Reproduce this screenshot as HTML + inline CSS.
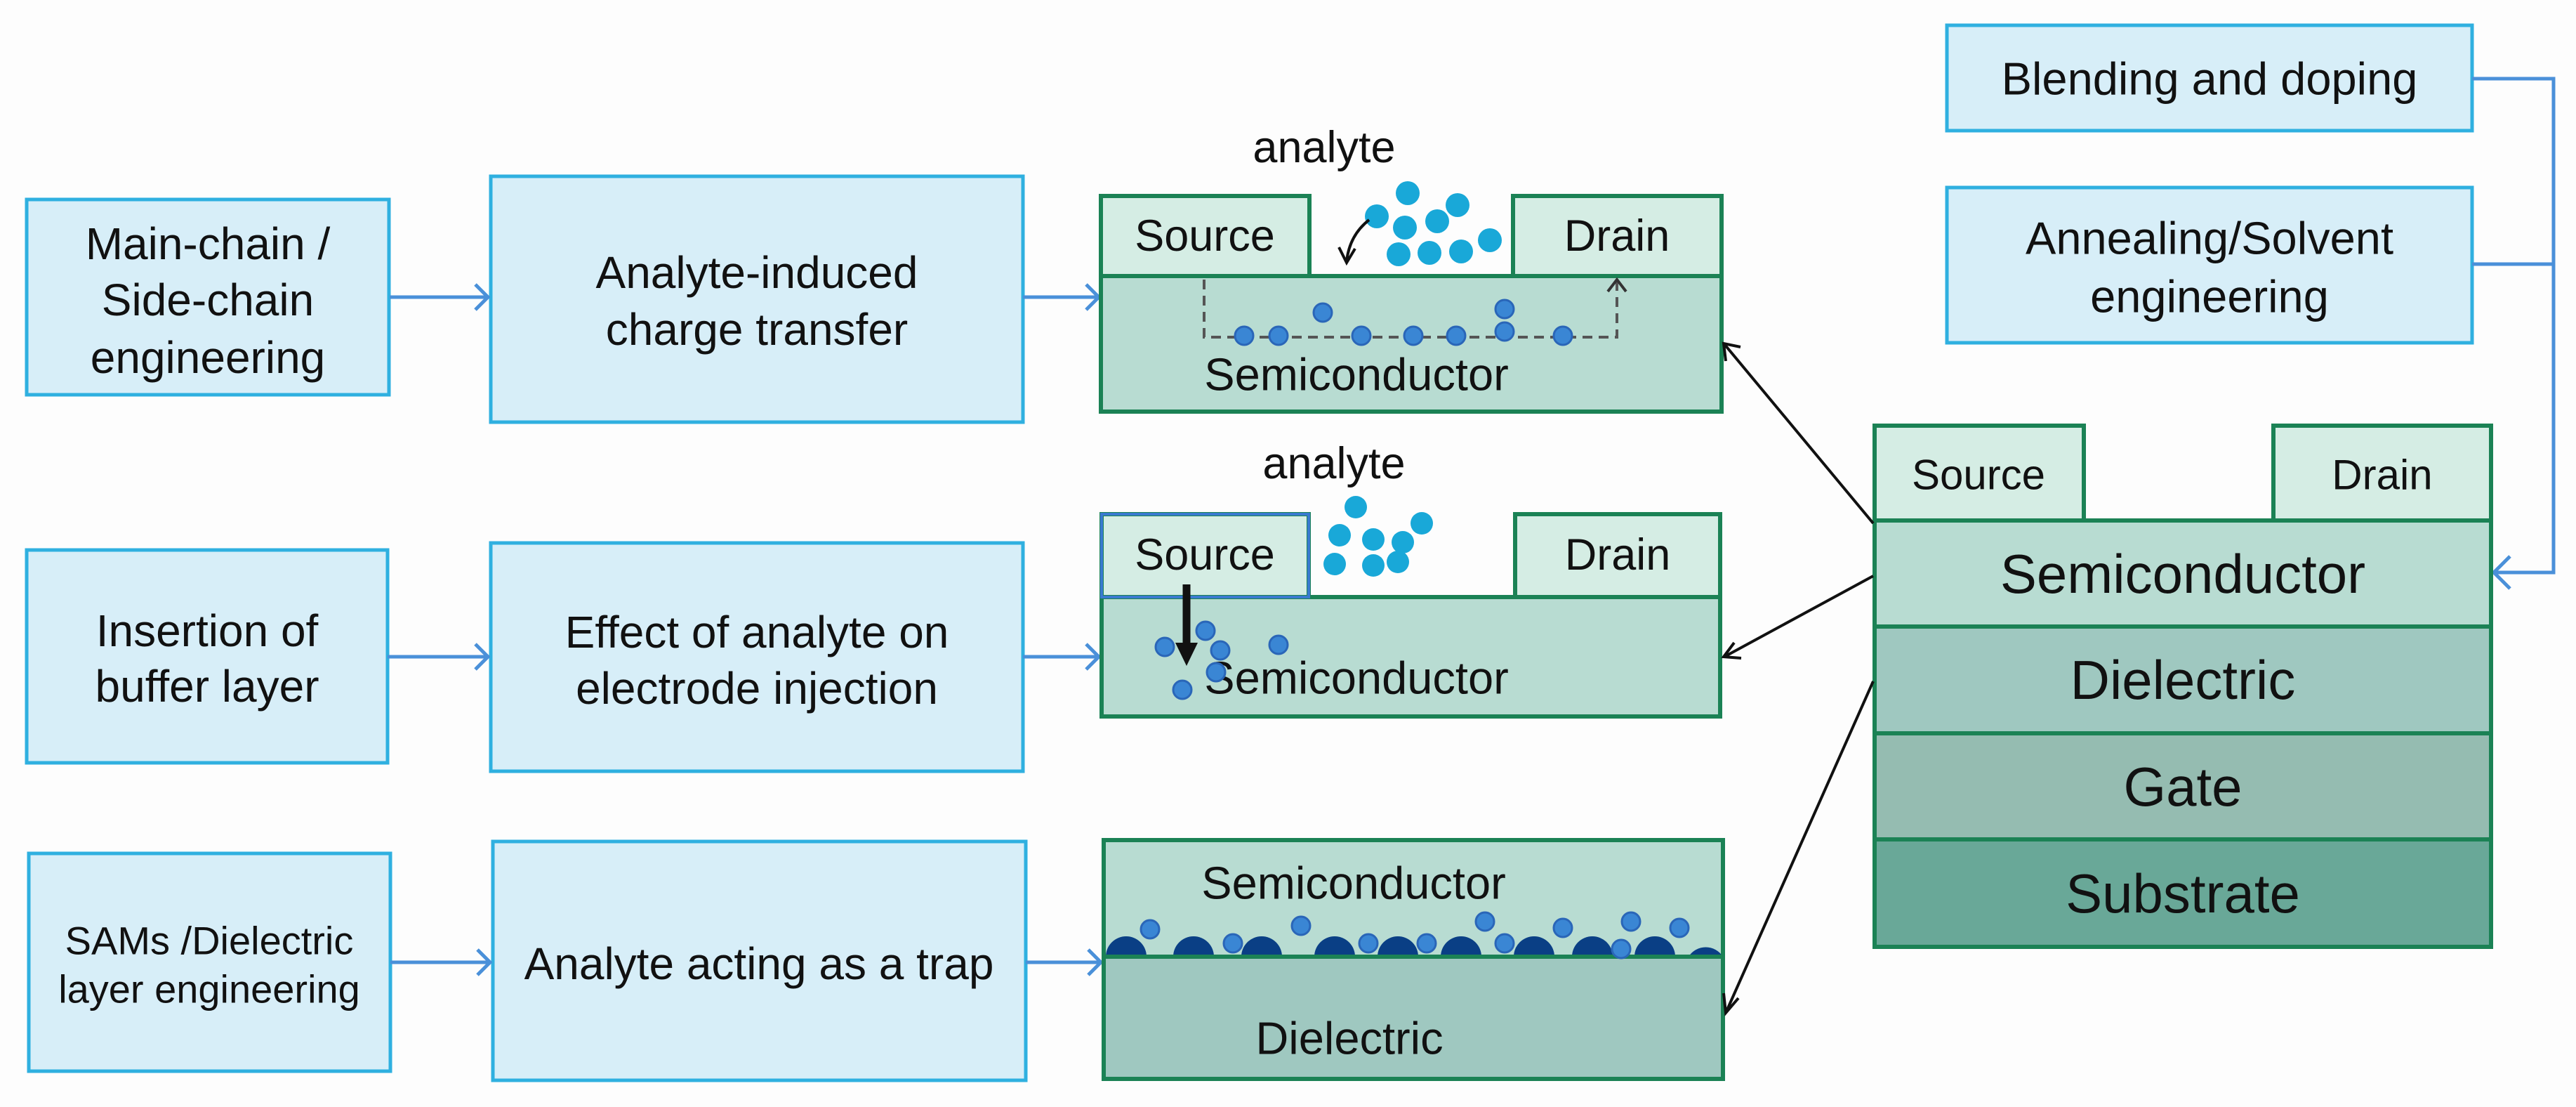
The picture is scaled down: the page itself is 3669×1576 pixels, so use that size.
<!DOCTYPE html>
<html><head><meta charset="utf-8"><style>
html,body{margin:0;padding:0;background:#fdfdfd;}
svg{display:block}
text{font-family:"Liberation Sans",Arial,sans-serif;fill:#111;text-anchor:middle;dominant-baseline:central}
.bx{fill:#d7eef8;stroke:#2fb0e0;stroke-width:5}
.g{stroke:#1b8255;stroke-width:6}
.bl{stroke:#4a90d9;stroke-width:5;fill:none}
.k{stroke:#111;stroke-width:4;fill:none}
.cy{fill:#19a8d8}
.dd{fill:#3a86d4;stroke:#2a66b8;stroke-width:3}
</style></head><body>
<svg width="3669" height="1576" viewBox="0 0 3669 1576" xmlns="http://www.w3.org/2000/svg">
<rect width="3669" height="1576" fill="#fdfdfd"/>
<!-- left boxes -->
<rect class="bx" x="38" y="284" width="516" height="278"/>
<text x="296" y="347" font-size="64">Main-chain /</text>
<text x="296" y="427" font-size="64">Side-chain</text>
<text x="296" y="509" font-size="64">engineering</text>
<rect class="bx" x="699" y="251" width="758" height="350"/>
<text x="1078" y="388" font-size="64">Analyte-induced</text>
<text x="1078" y="469" font-size="64">charge transfer</text>

<rect class="bx" x="38" y="783" width="514" height="303"/>
<text x="295" y="898" font-size="64">Insertion of</text>
<text x="295" y="977" font-size="64">buffer layer</text>
<rect class="bx" x="699" y="773" width="758" height="325"/>
<text x="1078" y="900" font-size="64">Effect of analyte on</text>
<text x="1078" y="980" font-size="64">electrode injection</text>

<rect class="bx" x="41" y="1215" width="515" height="310"/>
<text x="298" y="1339" font-size="56">SAMs /Dielectric</text>
<text x="298" y="1408" font-size="56">layer engineering</text>
<rect class="bx" x="702" y="1198" width="759" height="340"/>
<text x="1081" y="1372" font-size="64">Analyte acting as a trap</text>

<!-- top right boxes -->
<rect class="bx" x="2773" y="36" width="748" height="150"/>
<text x="3147" y="112" font-size="65">Blending and doping</text>
<rect class="bx" x="2773" y="267" width="748" height="221"/>
<text x="3147" y="339" font-size="65">Annealing/Solvent</text>
<text x="3147" y="422" font-size="65">engineering</text>
<path class="bl" d="M3521 112 H3637 V815 H3552 M3521 376 H3637 M3575 792 L3552 815 L3575 838"/>

<!-- blue connectors -->
<path class="bl" d="M555 423 H695 M677 405 L695 423 L677 441 M1457 423 H1565 M1547 405 L1565 423 L1547 441"/>
<path class="bl" d="M552 935 H695 M677 917 L695 935 L677 953 M1457 935 H1565 M1547 917 L1565 935 L1547 953"/>
<path class="bl" d="M556 1370 H698 M680 1352 L698 1370 L680 1388 M1461 1370 H1568 M1550 1352 L1568 1370 L1550 1388"/>

<!-- device 1 -->
<rect x="1568" y="393" width="884" height="193" fill="#b8dcd2" class="g"/>
<rect x="1568" y="279" width="297" height="114" fill="#d5ede4" class="g"/>
<rect x="2155" y="279" width="297" height="114" fill="#d5ede4" class="g"/>
<text x="1716" y="336" font-size="63">Source</text>
<text x="2303" y="336" font-size="63">Drain</text>
<text x="1886" y="210" font-size="63">analyte</text>
<text x="1932" y="533" font-size="65">Semiconductor</text>
<path d="M1715 398 V480 H2303 V400" stroke="#555" stroke-width="4" stroke-dasharray="14 9" fill="none"/>
<path d="M2290 415 L2303 398 L2316 415" stroke="#333" stroke-width="4" fill="none"/>
<g class="dd"><circle cx="1772" cy="478" r="13"/><circle cx="1821" cy="478" r="13"/><circle cx="1884" cy="445" r="13"/><circle cx="1939" cy="478" r="13"/><circle cx="2013" cy="478" r="13"/><circle cx="2074" cy="478" r="13"/><circle cx="2143" cy="440" r="13"/><circle cx="2143" cy="472" r="13"/><circle cx="2226" cy="478" r="13"/></g>
<g class="cy"><circle cx="2005" cy="275" r="17"/><circle cx="2076" cy="292" r="17"/><circle cx="1961" cy="308" r="17"/><circle cx="2001" cy="324" r="17"/><circle cx="2047" cy="315" r="17"/><circle cx="2122" cy="342" r="17"/><circle cx="1992" cy="362" r="17"/><circle cx="2036" cy="360" r="17"/><circle cx="2081" cy="358" r="17"/></g>
<path class="k" d="M1950 313 Q1922 335 1918 372 M1907 352 L1918 374 L1930 354"/>

<!-- device 2 -->
<rect x="1569" y="850" width="881" height="170" fill="#b8dcd2" class="g"/>
<rect x="1569" y="732" width="295" height="118" fill="#d5ede4" class="g"/>
<path d="M1569 850 V732 H1864 V850 Z" fill="none" stroke="#3a7ad0" stroke-width="4"/>
<rect x="2158" y="732" width="292" height="118" fill="#d5ede4" class="g"/>
<text x="1716" y="790" font-size="63">Source</text>
<text x="2304" y="790" font-size="63">Drain</text>
<text x="1900" y="660" font-size="63">analyte</text>
<text x="1932" y="965" font-size="65">Semiconductor</text>
<g class="cy"><circle cx="1931" cy="722" r="16"/><circle cx="2025" cy="745" r="16"/><circle cx="1908" cy="762" r="16"/><circle cx="1956" cy="768" r="16"/><circle cx="1998" cy="772" r="16"/><circle cx="1901" cy="803" r="16"/><circle cx="1956" cy="805" r="16"/><circle cx="1991" cy="800" r="16"/></g>
<g class="dd"><circle cx="1659" cy="921" r="13"/><circle cx="1717" cy="898" r="13"/><circle cx="1738" cy="926" r="13"/><circle cx="1732" cy="957" r="13"/><circle cx="1684" cy="982" r="13"/><circle cx="1821" cy="918" r="13"/></g>
<path d="M1690 832 V920" stroke="#111" stroke-width="11"/>
<path d="M1674 915 L1690 948 L1706 915 Z" fill="#111"/>

<!-- device 3 -->
<rect x="1572" y="1196" width="882" height="166" fill="#b8dcd2" class="g"/>
<rect x="1572" y="1362" width="882" height="174" fill="#9fc8c0" class="g"/>
<text x="1928" y="1257" font-size="65">Semiconductor</text>
<text x="1922" y="1478" font-size="65">Dielectric</text>
<g fill="#0a3f85"><path d="M1575 1362 A29 29 0 0 1 1633 1362Z"/><path d="M1671 1362 A29 29 0 0 1 1729 1362Z"/><path d="M1768 1362 A29 29 0 0 1 1826 1362Z"/><path d="M1872 1362 A29 29 0 0 1 1930 1362Z"/><path d="M1962 1362 A29 29 0 0 1 2020 1362Z"/><path d="M2052 1362 A29 29 0 0 1 2110 1362Z"/><path d="M2156 1362 A29 29 0 0 1 2214 1362Z"/><path d="M2239 1362 A29 29 0 0 1 2297 1362Z"/><path d="M2328 1362 A29 29 0 0 1 2386 1362Z"/><path d="M2405 1362 A29 29 0 0 1 2454 1362Z"/></g>
<path d="M1572 1362 H2454" stroke="#1b8255" stroke-width="6"/>
<g class="dd" fill="#4d9be0"><circle cx="1638" cy="1323" r="13"/><circle cx="1756" cy="1343" r="13"/><circle cx="1853" cy="1318" r="13"/><circle cx="1949" cy="1343" r="13"/><circle cx="2032" cy="1343" r="13"/><circle cx="2115" cy="1312" r="13"/><circle cx="2143" cy="1343" r="13"/><circle cx="2226" cy="1321" r="13"/><circle cx="2309" cy="1351" r="13"/><circle cx="2323" cy="1312" r="13"/><circle cx="2392" cy="1321" r="13"/></g>

<!-- big device -->
<rect x="2670" y="741" width="878" height="151" fill="#b8dcd2" class="g"/>
<rect x="2670" y="892" width="878" height="152" fill="#9fc8c0" class="g"/>
<rect x="2670" y="1044" width="878" height="151" fill="#95bcb1" class="g"/>
<rect x="2670" y="1195" width="878" height="153" fill="#69a898" class="g"/>
<rect x="2670" y="606" width="298" height="135" fill="#d5ede4" class="g"/>
<rect x="3238" y="606" width="310" height="135" fill="#d5ede4" class="g"/>
<text x="2818" y="676" font-size="60">Source</text>
<text x="3393" y="676" font-size="60">Drain</text>
<text x="3109" y="817" font-size="78">Semiconductor</text>
<text x="3109" y="968" font-size="78">Dielectric</text>
<text x="3109" y="1120" font-size="78">Gate</text>
<text x="3109" y="1272" font-size="78">Substrate</text>

<!-- black arrows -->
<path class="k" d="M2668 745 L2456 490 M2458 514 L2455 489 L2479 494"/>
<path class="k" d="M2668 820 L2456 935 M2470 915 L2455 935 L2480 937"/>
<path class="k" d="M2668 970 L2458 1442 M2455 1414 L2458 1442 L2476 1421"/>
</svg>
</body></html>
